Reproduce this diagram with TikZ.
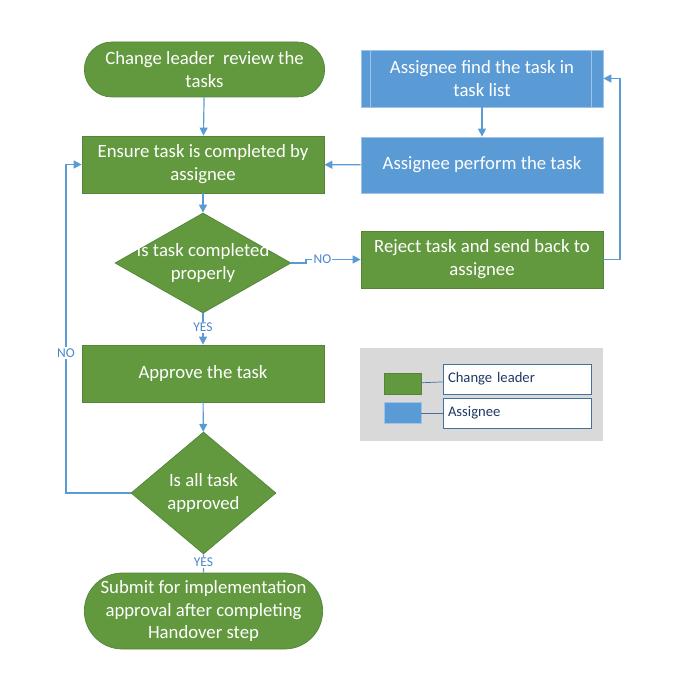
\documentclass[tikz,border=0pt]{standalone}
\usepackage{fontspec}
\setmainfont{Carlito}
\usetikzlibrary{positioning,shapes.geometric,shapes.misc,arrows.meta,calc}
\definecolor{leadgreen}{HTML}{62993E}
\definecolor{leadedge}{HTML}{53843A}
\definecolor{asgblue}{HTML}{5B9BD5}
\definecolor{asgedge}{HTML}{9DC3E6}
\definecolor{flowblue}{HTML}{5B9BD5}
\definecolor{lblblue}{HTML}{4A86C8}
\definecolor{keygray}{HTML}{D9D9D9}
\definecolor{keytext}{HTML}{1F3864}
\definecolor{keyedge}{HTML}{41719C}
\newcommand{\boxfont}{\fontsize{16}{19.5}\selectfont}
\newcommand{\tagfont}{\fontsize{11.5}{13}\selectfont}
\newcommand{\keyfont}{\fontsize{12.5}{14}\selectfont}
\newcommand{\keyEntry}[6]{\node[key, fill=#2, draw=#3] (k#1) at (402.5,#4) {};
	\node[keylab] (t#1) at (517,#5) {#6};
	\draw[keyln] (k#1) -- (t#1);}

\begin{document}
\begin{tikzpicture}[x=0.03cm, y=-0.03cm,
	box/.style={rectangle, draw=leadedge, fill=leadgreen, line width=0.6pt, text=white,
		minimum width=7.26cm, minimum height=1.71cm, align=center, inner sep=2pt, font=\boxfont},
	term/.style={box, rounded rectangle, minimum width=7.35cm, minimum height=1.65cm},
	ablock/.style={box, draw=asgedge, fill=asgblue},
	decide/.style={diamond, draw=leadedge, fill=leadgreen, line width=0.6pt, inner sep=0pt},
	dtext/.style={text=white, align=center, font=\boxfont},
	flow/.style={draw=flowblue, line width=1pt, -{Triangle[length=2.4mm, width=2.4mm]}},
	lbl/.style={fill=white, text=lblblue, font=\tagfont, inner sep=1pt},
	subln/.style={draw=asgedge, line width=0.6pt},
	keybox/.style={fill=keygray, minimum width=7.29cm, minimum height=2.79cm},
	key/.style={minimum width=1.11cm, minimum height=0.63cm, inner sep=0pt, line width=0.6pt},
	keylab/.style={draw=keyedge, fill=white, text=keytext, line width=0.6pt, font=\keyfont,
		minimum height=0.9cm, inner xsep=0.15cm, text width=4.14cm, align=left},
	keyln/.style={draw=keyedge, line width=0.6pt}]
	\useasboundingbox (0,0) rectangle (682,682);

	% change leader lane
	\node[term] (review) at (204.5,69.5) {Change leader~ review the\\tasks};
	\node[box] (ensure) at (203,164.5) {Ensure task is completed by\\assignee};
	\node[decide, minimum width=5.28cm, minimum height=3cm,
		label={[dtext]center:Is task completed\\properly}] (q1) at (203,263) {};
	\node[box] (approve) at (203,373.5) {Approve the task};
	\node[decide, minimum width=4.35cm, minimum height=3.66cm,
		label={[dtext]center:Is all task\\approved}] (q2) at (203.5,493) {};
	\node[term, minimum width=7.29cm, minimum height=2.28cm] (submit) at (203.5,611)
		{Submit for implementation\\approval after completing\\Handover step};

	% assignee lane
	\node[ablock] (find) at (482,78.5) {Assignee find the task in\\task list};
	\draw[subln] ([xshift=0.3cm]find.north west) -- ([xshift=0.3cm]find.south west);
	\draw[subln] ([xshift=-0.36cm]find.north east) -- ([xshift=-0.36cm]find.south east);
	\node[ablock, minimum height=1.68cm] (perform) at (482,165) {Assignee perform the task};
	\node[box] (reject) at (482,259.5) {Reject task and send back to\\assignee};

	% connectors
	\coordinate (jog) at (306,259.5);
	\coordinate (loopl) at (66,353);
	\coordinate (loopr) at (620,170);
	\draw[flow] (review) -- (ensure);
	\draw[flow] (ensure) -- (q1);
	\draw[flow] (q1) -- node[lbl, pos=0.45] {YES} (approve);
	\draw[flow] (approve) -- (q2);
	\draw[draw=flowblue, line width=1pt] (q2) -- node[lbl, pos=0.45] {YES} (submit);
	\draw[flow] (q1.east) -- (jog |- q1.east) -- (jog) -- node[lbl, pos=0.3] {NO} (reject.west);
	\draw[flow] (q2.west) -| (loopl) node[lbl] {NO} |- (ensure.west);
	\draw[flow] (reject.east) -| (loopr) |- (find.east);
	\draw[flow] (find) -- (perform);
	\draw[flow] (perform) -- (ensure);

	% legend
	\node[keybox] (legend) at (481.5,394.5) {};
	\keyEntry{lead}{leadgreen}{leadedge}{383.5}{379}{Change leader}
	\keyEntry{asg}{asgblue}{asgedge}{413}{413}{Assignee}
\end{tikzpicture}
\end{document}
